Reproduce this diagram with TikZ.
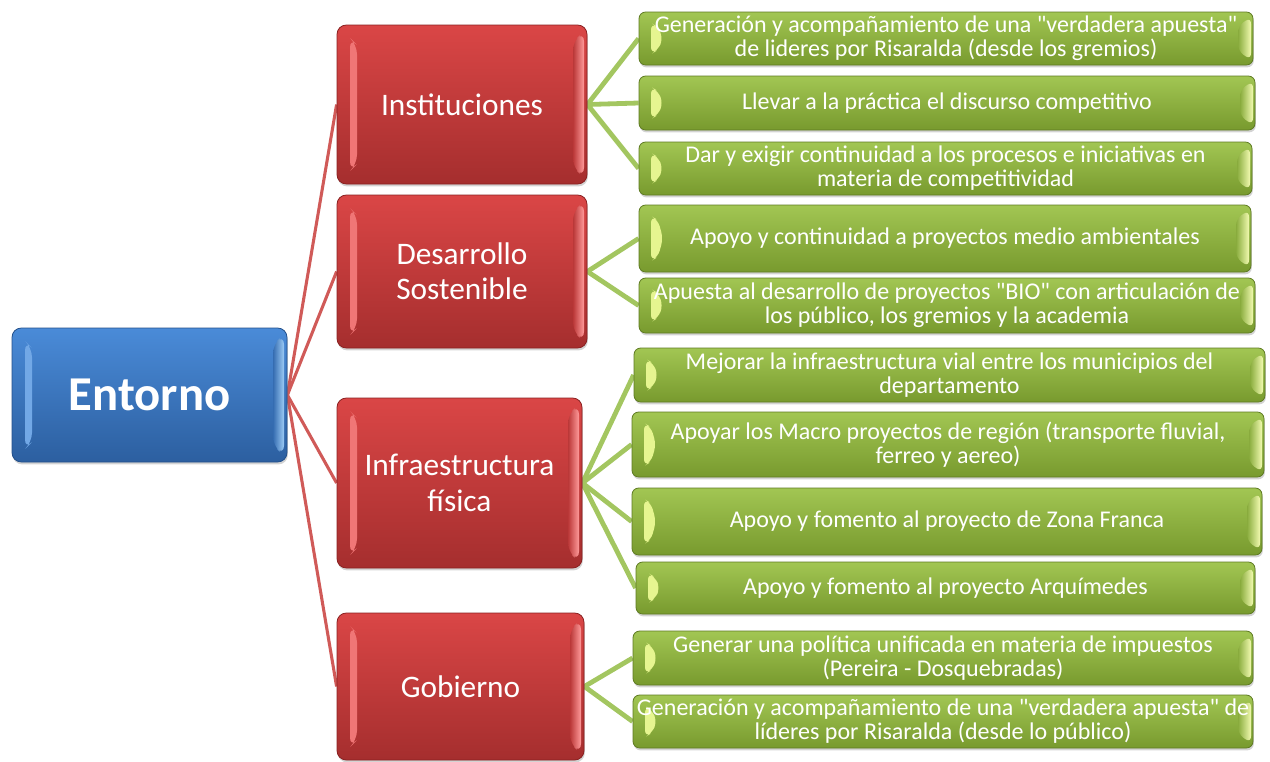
\documentclass[tikz,border=0pt]{standalone}
\usepackage{fontspec}
\setmainfont{Carlito}[Ligatures=TeXOff]
\usetikzlibrary{calc,shadows,backgrounds}
\definecolor{bluetop}{HTML}{4A8BD8}
\definecolor{bluebot}{HTML}{2C5FA0}
\definecolor{blueedge}{HTML}{24508A}
\definecolor{bluehl}{HTML}{9CCBF5}
\definecolor{bluehlL}{HTML}{72A8E6}
\definecolor{redtop}{HTML}{DA4646}
\definecolor{redbot}{HTML}{A52E2E}
\definecolor{rededge}{HTML}{8A2222}
\definecolor{redhl}{HTML}{FF9A9A}
\definecolor{redhlL}{HTML}{F07676}
\definecolor{greentop}{HTML}{A2C653}
\definecolor{greenbot}{HTML}{789A2E}
\definecolor{greenedge}{HTML}{5E7A22}
\definecolor{greenhl}{HTML}{F2FAB0}
\definecolor{greenhlL}{HTML}{E6F590}
\definecolor{redline}{HTML}{D05A58}
\definecolor{greenline}{HTML}{A3C660}
\begin{document}
\begin{tikzpicture}[x=0.75pt,y=-0.75pt,
  wh/.style 2 args={minimum width=#1*0.75pt, minimum height=#2*0.75pt},
  bev/.style n args={3}{path picture={
    \fill[#1] ($(path picture bounding box.north west)+(13,13)$) -- ($(path picture bounding box.north west)+(20,20)$)
      -- ($(path picture bounding box.south west)+(20,-20)$) -- ($(path picture bounding box.south west)+(13,-13)$) -- cycle;
    \shade[left color=#3, right color=#2] ($(path picture bounding box.north east)+(-14,16)$) -- ($(path picture bounding box.north east)+(-3,7)$)
      -- ($(path picture bounding box.south east)+(-3,-7)$) -- ($(path picture bounding box.south east)+(-14,-16)$) -- cycle;
  }},
  gbev/.style={path picture={
    \fill[greenhlL] ($(path picture bounding box.north west)+(12,11)$) -- ($(path picture bounding box.north west)+(19,15)$)
      -- ($(path picture bounding box.west)+(24,0)$) -- ($(path picture bounding box.south west)+(19,-15)$)
      -- ($(path picture bounding box.south west)+(12,-11)$) -- cycle;
    \shade[left color=greenbot!60!greentop, right color=greenhl] ($(path picture bounding box.north east)+(-15,14)$) -- ($(path picture bounding box.north east)+(-2,5)$)
      -- ($(path picture bounding box.south east)+(-2,-5)$) -- ($(path picture bounding box.south east)+(-15,-14)$) -- cycle;
  }},
  box/.style={rounded corners=7pt, inner sep=0pt, align=center, text=white, line width=0.6pt,
    drop shadow={shadow xshift=0.6pt, shadow yshift=-1.8pt, opacity=0.35}},
  bluebox/.style={box, draw=blueedge, top color=bluetop, bottom color=bluebot, bev={bluehlL}{bluehl}{bluebot!70!bluetop},
    font=\fontsize{36.5}{42}\selectfont\bfseries},
  redbox/.style={box, draw=rededge, top color=redtop, bottom color=redbot, bev={redhlL}{redhl}{redbot!60!redtop},
    font=\fontsize{23.5}{26.5}\selectfont},
  greenbox/.style={box, rounded corners=5pt, draw=greenedge, top color=greentop, bottom color=greenbot, gbev,
    font=\fontsize{18}{18}\selectfont},
  rline/.style={draw=redline, line width=2.3pt},
  gline/.style={draw=greenline, line width=3.6pt}
]
\useasboundingbox (0,0) rectangle (1270,761);

\node[bluebox, wh={275}{134}] (ent) at (149.5,395) {Entorno};

\node[redbox, wh={250}{159}] (r1) at (462,104.5) {Instituciones};
\node[redbox, wh={250}{153}] (r2) at (462,271.5) {Desarrollo\\Sostenible};
\node[redbox, wh={245}{170}] (r3) at (459.5,483) {Infraestructura\\física};
\node[redbox, wh={247}{147}] (r4) at (460.5,686.5) {Gobierno};

\node[greenbox, wh={614}{53}] (g1) at (946,38.5) {Generación y acompañamiento de una "verdadera apuesta"\\de lideres por Risaralda (desde los gremios)};
\node[greenbox, wh={616}{54}] (g2) at (947,103) {Llevar a la práctica el discurso competitivo};
\node[greenbox, wh={613}{53}] (g3) at (945.5,168.5) {Dar y exigir continuidad a los procesos e iniciativas en\\materia de competitividad};
\node[greenbox, wh={612}{67}] (g4) at (945,238.5) {Apoyo y continuidad a proyectos medio ambientales};
\node[greenbox, wh={616}{55}] (g5) at (947,305.5) {Apuesta al desarrollo de proyectos "BIO" con articulación de\\los público, los gremios y la academia};
\node[greenbox, wh={631}{54}] (g6) at (949.5,375) {Mejorar la infraestructura vial entre los municipios del\\departamento};
\node[greenbox, wh={632}{65}] (g7) at (948,444.5) {Apoyar los Macro proyectos de región (transporte fluvial,\\ferreo y aereo)};
\node[greenbox, wh={630}{67}] (g8) at (947,521.5) {Apoyo y fomento al proyecto de Zona Franca};
\node[greenbox, wh={619}{52}] (g9) at (945.5,588) {Apoyo y fomento al proyecto Arquímedes};
\node[greenbox, wh={620}{54}] (g10) at (943,658) {Generar una política unificada en materia de impuestos\\(Pereira - Dosquebradas)};
\node[greenbox, wh={620}{53}] (g11) at (943,721.5) {Generación y acompañamiento de una "verdadera apuesta" de\\líderes por Risaralda (desde lo público)};

\begin{scope}[on background layer]
  \foreach \r in {r1,r2,r3,r4} \draw[rline] (ent.east) -- (\r.west);
  \foreach \g in {g1,g2,g3} \draw[gline] (r1.east) -- (\g.west);
  \foreach \g in {g4,g5} \draw[gline] (r2.east) -- (\g.west);
  \foreach \g in {g6,g7,g8,g9} \draw[gline] (r3.east) -- (\g.west);
  \foreach \g in {g10,g11} \draw[gline] (r4.east) -- (\g.west);
\end{scope}
\end{tikzpicture}
\end{document}
